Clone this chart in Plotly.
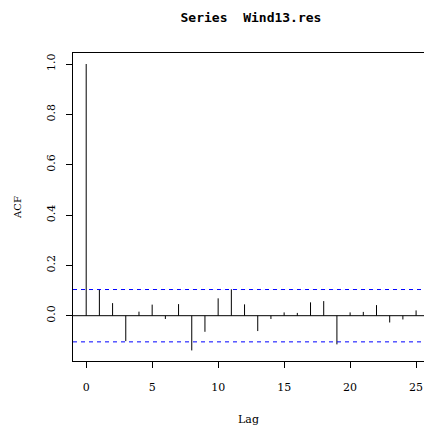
import plotly.graph_objects as go

lags = list(range(0, 26))
acf_vals = [1.0, 0.105, 0.050, -0.101, 0.016, 0.044, -0.013, 0.046, -0.138, -0.064,
            0.069, 0.105, 0.045, -0.061, -0.013, 0.013, 0.011, 0.053, 0.058, -0.114,
            0.013, 0.015, 0.042, -0.027, -0.015, 0.021]
ci = 0.104
x_ticks = [0, 5, 10, 15, 20, 25]
y_ticks = [0.0, 0.2, 0.4, 0.6, 0.8, 1.0]

xs, ys = [], []
for l, v in zip(lags, acf_vals):
    xs += [l, l, None]
    ys += [0, v, None]

serif = "DejaVu Serif"
fig = go.Figure()
fig.add_trace(go.Scatter(x=xs, y=ys, mode="lines", line=dict(color="black", width=1),
                         hoverinfo="skip", showlegend=False))

fig.add_hline(y=0, line=dict(color="black", width=1))
for c in (ci, -ci):
    fig.add_hline(y=c, line=dict(color="blue", width=1, dash="4px,4px"))

fig.update_layout(
    width=424, height=432,
    margin=dict(l=73, r=0, t=53, b=71),
    plot_bgcolor="white", paper_bgcolor="white",
    title=dict(text="<b>Series\u00a0\u00a0Wind13.res</b>", x=(73 + 429) / 2 / 424, xanchor="center",
               y=1 - 17 / 432, yanchor="middle",
               font=dict(family="DejaVu Sans Mono", size=13, color="black")),
    xaxis=dict(range=[-1, 25.6], tickvals=x_ticks, ticktext=[str(t) for t in x_ticks],
               showline=True, linecolor="black", linewidth=1, mirror=True, automargin=False,
               ticks="outside", ticklen=6, tickcolor="black", showgrid=False, zeroline=False,
               ticklabelstandoff=10,
               tickfont=dict(family=serif, size=11, color="black"),
               title=dict(text="Lag", standoff=22, font=dict(family=serif, size=11, color="black"))),
    yaxis=dict(range=[-0.180, 1.0437], tickvals=y_ticks, ticktext=[f"{t:.1f}" for t in y_ticks],
               tickangle=-90, automargin=False,
               showline=True, linecolor="black", linewidth=1,
               ticks="outside", ticklen=6, tickcolor="black", showgrid=False, zeroline=False,
               ticklabelstandoff=7,
               tickfont=dict(family=serif, size=11, color="black"),
               title=dict(text="ACF", standoff=21, font=dict(family=serif, size=10, color="black"))),
)
fig.write_html("out.html", config={"displayModeBar": False},
               post_script="document.body.style.margin='0';document.body.style.overflow='hidden';")
